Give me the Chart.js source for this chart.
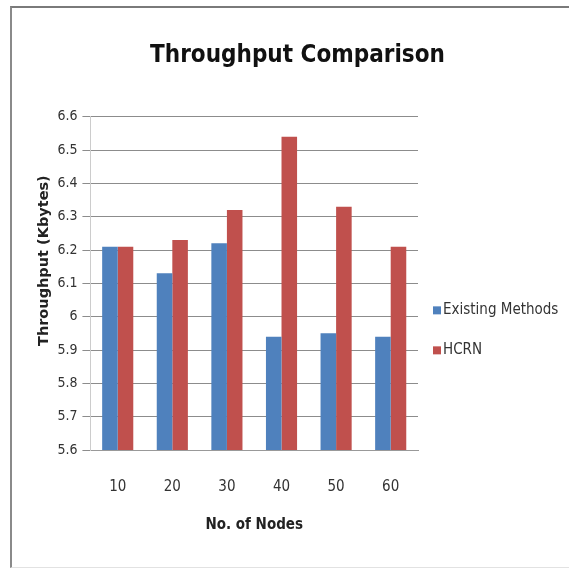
<!DOCTYPE html>
<html>
<head>
<meta charset="utf-8">
<script src="https://cdn.jsdelivr.net/npm/chart.js@4/dist/chart.umd.min.js"></script>
<style>
  body { margin: 0; background: #fff; }
  #wrap { position: relative; width: 569px; height: 568px; }
  #frame {
    position: absolute; left: 10px; top: 6px; width: 600px; height: 559px;
    border-left: 2px solid #8a8a8a; border-top: 2px solid #7a7a7a;
    border-bottom: 1px solid #e2e2e2;
  }
  canvas { position: absolute; left: 0; top: 0; }
</style>
</head>
<body>
<div id="wrap">
  <div id="frame"></div>
  <canvas id="bar-chart" width="569" height="568"></canvas>
</div>
<script>
const nodes = ['10', '20', '30', '40', '50', '60'];
const existingMethods = [6.21, 6.13, 6.22, 5.94, 5.95, 5.94];
const hcrn = [6.21, 6.23, 6.32, 6.54, 6.33, 6.21];
const yTicks = ['5.6', '5.7', '5.8', '5.9', '6', '6.1', '6.2', '6.3', '6.4', '6.5', '6.6'];

const narrow = '"Liberation Sans Narrow", "DejaVu Sans Condensed", sans-serif';

// legend to the right of the plot, entries spaced like the original (built-in one packs them too tight)
const sideLegend = {
  id: 'sideLegend',
  afterDraw(chart) {
    const {ctx, chartArea} = chart;
    const mid = (chartArea.top + chartArea.bottom) / 2;
    ctx.save();
    ctx.font = '15px ' + narrow;
    ctx.textBaseline = 'middle';
    chart.data.datasets.forEach((ds, i) => {
      const y = mid + 27 + i * 40;
      const x = chartArea.right + 15;
      ctx.fillStyle = ds.backgroundColor;
      ctx.fillRect(x, y - 4, 8, 8);
      ctx.fillStyle = '#333';
      ctx.fillText(ds.label, x + 10, y);
    });
    ctx.restore();
  }
};

document.addEventListener("DOMContentLoaded", function () {
  let ctx = document.getElementById('bar-chart');
  new Chart(ctx, {
    type: 'bar',
    data: {
      labels: nodes,
      datasets: [
        { label: 'Existing Methods', backgroundColor: '#4F81BD', data: existingMethods },
        { label: 'HCRN', backgroundColor: '#C0504D', data: hcrn }
      ]
    },
    options: {
      responsive: false,
      animation: false,
      layout: { padding: { top: 41.6, left: 36, right: 10, bottom: 35.5 } },
      datasets: { bar: { categoryPercentage: 0.57, barPercentage: 1.0 } },
      plugins: {
        title: {
          display: true,
          text: 'Throughput Comparison',
          color: '#111',
          font: { family: narrow, size: 24, weight: 'bold' },
          padding: { top: 0, bottom: 46.3 }
        },
        legend: { display: false },
        tooltip: { enabled: false }
      },
      scales: {
        x: {
          grid: { display: false, drawTicks: true, tickLength: 22 },
          border: { color: '#999' },
          ticks: { color: '#333', padding: 7.5, font: { family: narrow, size: 15, lineHeight: 1 } },
          title: {
            display: true, text: 'No. of Nodes', color: '#222',
            font: { family: narrow, size: 15, weight: 'bold', lineHeight: 1 }, padding: { top: 15.5, bottom: 0 }
          }
        },
        y: {
          min: 5.6, max: 6.6,
          grid: { color: '#8c8c8c', tickLength: 8 },
          border: { color: '#ccc' },
          ticks: {
            stepSize: 0.1, color: '#333', padding: 5,
            font: { family: narrow, size: 14 },
            callback: (v, i) => yTicks[i]
          },
          title: {
            display: true, text: '\u00a0'.repeat(9) + 'Throughput (Kbytes)', color: '#222',
            font: { family: 'DejaVu Sans', size: 14.5, weight: 'bold' }, padding: { top: 0, bottom: -1 }
          }
        },
        // empty right-hand axis that only keeps room for the legend, so the title stays centred on the whole chart
        legendRoom: {
          position: 'right',
          grid: { display: false, drawTicks: false },
          border: { display: false },
          ticks: { display: false },
          afterFit: (s) => { s.width = 141; }
        }
      }
    },
    plugins: [sideLegend]
  });
});
</script>
</body>
</html>
